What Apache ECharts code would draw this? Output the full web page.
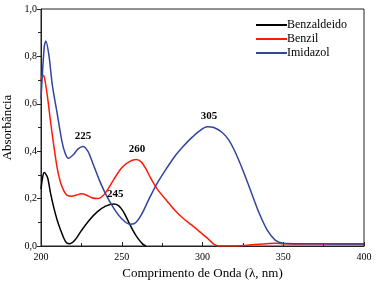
<!DOCTYPE html>
<html><head><meta charset="utf-8">
<script src="https://cdn.jsdelivr.net/npm/echarts@6/dist/echarts.min.js"></script>
<style>html,body{margin:0;padding:0;background:#fff}#c{width:376px;height:284px}</style>
</head><body><div id="c"></div>
<script>
const seriesNames = ['Benzaldeido', 'Benzil', 'Imidazol'];
const benzaldeidoX = [200,201,202,204,206,208,210,212,214,216,218,221,225,230,235,240,245,248,251,254,257,260,263,265];
const benzaldeidoY = [0.24,0.29,0.31,0.29,0.22,0.16,0.11,0.07,0.035,0.012,0.01,0.025,0.065,0.11,0.145,0.168,0.177,0.17,0.145,0.105,0.065,0.032,0.008,0];
const benzilX = [200,201,202,204,206,208,210,212,214,216,219,222,225,228,231,235,238,241,245,250,255,259,262,265,268,272,278,283,288,293,298,303,307,310,320,325,330,340,345,350,360,400];
const benzilY = [0.70,0.72,0.715,0.63,0.52,0.42,0.33,0.27,0.235,0.215,0.21,0.215,0.22,0.215,0.205,0.2,0.21,0.235,0.28,0.33,0.357,0.365,0.355,0.325,0.285,0.24,0.19,0.15,0.117,0.09,0.062,0.033,0.008,0,0,0.002,0.005,0.01,0.012,0.01,0.008,0.008];
const imidazolX = [200,202,203,205,207,210,213,215,217,220,223,226,229,232,236,240,245,250,255,258,262,267,272,278,283,288,293,298,303,307,312,316,320,325,330,335,340,345,350,360,370,380,390,400];
const imidazolY = [0.62,0.84,0.865,0.80,0.68,0.56,0.44,0.39,0.37,0.385,0.41,0.42,0.40,0.35,0.28,0.22,0.16,0.115,0.092,0.095,0.13,0.2,0.265,0.33,0.38,0.42,0.455,0.485,0.503,0.50,0.48,0.45,0.40,0.32,0.23,0.14,0.068,0.025,0.012,0.01,0.01,0.008,0.008,0.008];
const peakLabels = ['225', '245', '260', '305'];
const peakX = [226, 246, 259.5, 304];
const peakY = [0.42, 0.177, 0.366, 0.505];
const peakSeries = [2, 0, 1, 2];
const xTicks = [200, 250, 300, 350, 400];
const yTicks = [0, 0.2, 0.4, 0.6, 0.8, 1.0];
const colors = ['#000000', '#ff1a0a', '#33449c'];

const zip = (xs, ys) => xs.map((x, i) => [x, ys[i]]);
const datasets = [zip(benzaldeidoX, benzaldeidoY), zip(benzilX, benzilY), zip(imidazolX, imidazolY)];
const font = 'Liberation Serif';

const series = seriesNames.map((name, s) => ({
  name, type: 'line', data: datasets[s], smooth: 0.3, symbol: 'none',
  lineStyle: { color: colors[s], width: 1.5 }, itemStyle: { color: colors[s] },
  markPoint: {
    symbol: 'circle', symbolSize: 1, itemStyle: { color: 'rgba(0,0,0,0)' },
    label: { show: true, position: 'top', distance: 4, color: '#000', fontFamily: font, fontWeight: 'bold', fontSize: 11, formatter: p => p.name },
    data: peakLabels.map((l, i) => ({ name: l, coord: [peakX[i], peakY[i]], s: peakSeries[i] })).filter(d => d.s === s).map(d => ({ name: d.name, coord: d.coord }))
  }
}));

const chart = echarts.init(document.getElementById('c'));
chart.setOption({
  animation: false,
  textStyle: { fontFamily: font },
  grid: { left: 41, right: 12, top: 9, bottom: 38, containLabel: false, outerBoundsMode: 'none', show: true, borderColor: '#222', borderWidth: 1, backgroundColor: 'transparent' },
  legend: {
    orient: 'vertical', left: 251, top: 13, itemWidth: 31, itemHeight: 2, itemGap: 0, icon: 'rect',
    textStyle: { fontFamily: font, fontSize: 12, color: '#000', padding: [0, 0, 0, -5], lineHeight: 14 },
    data: seriesNames
  },
  xAxis: {
    type: 'value', min: xTicks[0], max: xTicks[xTicks.length - 1], interval: 50,
    name: 'Comprimento de Onda (λ, nm)', nameLocation: 'middle', nameGap: 21,
    nameTextStyle: { fontFamily: font, fontSize: 13, color: '#000' },
    axisLine: { lineStyle: { color: '#222', width: 1 } },
    axisTick: { inside: true, length: 4, lineStyle: { color: '#222' } },
    minorTick: { show: true, splitNumber: 2, length: 3, lineStyle: { color: '#222' } },
    axisLabel: { fontFamily: font, fontSize: 10, color: '#000', margin: 6 },
    splitLine: { show: false }
  },
  yAxis: {
    type: 'value', min: yTicks[0], max: yTicks[yTicks.length - 1], interval: 0.2,
    name: 'Absorbância', nameLocation: 'middle', nameGap: 25,
    nameTextStyle: { fontFamily: font, fontSize: 13, color: '#000' },
    axisLine: { show: true, lineStyle: { color: '#222', width: 1 } },
    axisTick: { show: true, length: 4, lineStyle: { color: '#222' } },
    minorTick: { show: true, splitNumber: 2, length: 3, lineStyle: { color: '#222' } },
    axisLabel: { fontFamily: font, fontSize: 10, color: '#000', margin: 4, formatter: v => v.toFixed(1).replace('.', ',') },
    splitLine: { show: false }
  },
  series
});
</script></body></html>
